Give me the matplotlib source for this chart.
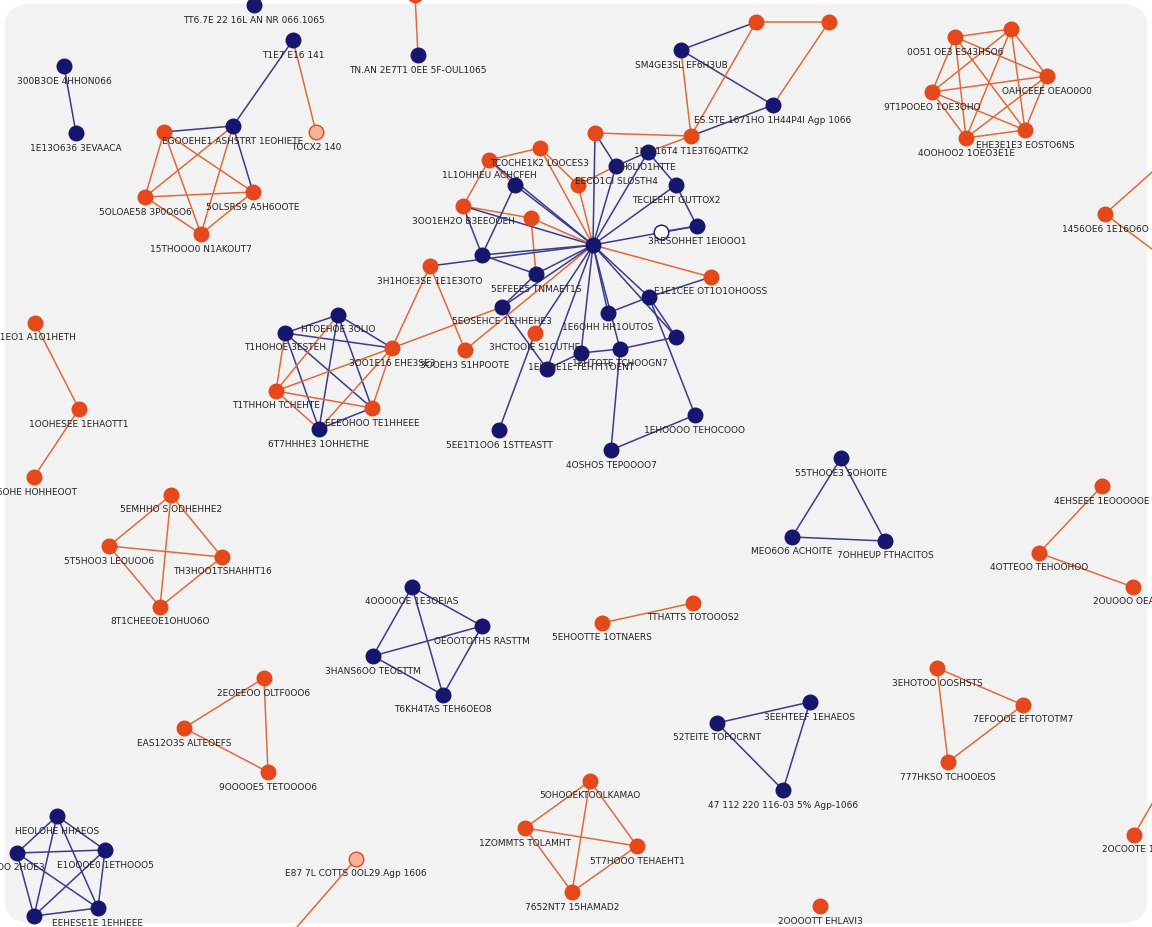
import matplotlib.pyplot as plt
from matplotlib.patches import FancyBboxPatch
from itertools import combinations

# node layout (pixel-like canvas units, y grows downward)
NODE_X = [64, 76, 254, 293, 316, 233, 164, 145, 253, 201,
          418, 415, 756, 829, 681, 773, 691, 955, 1011, 1047,
          932, 1025, 966, 1105, 1160, 1160, 593, 595, 540, 489,
          578, 463, 531, 430, 465, 535, 711, 616, 648, 676,
          697, 515, 482, 536, 502, 608, 649, 676, 620, 581,
          547, 661, 499, 611, 695, 285, 338, 392, 276, 372,
          319, 35, 79, 34, 171, 109, 222, 160, 841, 792,
          885, 1102, 1039, 1133, 412, 482, 373, 443, 602, 693,
          264, 184, 268, 937, 1023, 948, 810, 717, 783, 1134,
          1160, 57, 17, 105, 34, 98, 356, 290, 590, 525,
          637, 572, 820]
NODE_Y = [66, 133, 5, 40, 132, 126, 132, 197, 192, 234,
          55, -5, 22, 22, 50, 105, 136, 37, 29, 76,
          92, 130, 138, 214, 165, 255, 245, 133, 148, 160,
          185, 206, 218, 266, 350, 333, 277, 166, 152, 185,
          226, 185, 255, 274, 307, 313, 297, 337, 349, 353,
          369, 232, 430, 450, 415, 333, 315, 348, 391, 408,
          429, 323, 409, 477, 495, 546, 557, 607, 458, 537,
          541, 486, 553, 587, 587, 626, 656, 695, 623, 603,
          678, 728, 772, 668, 705, 762, 702, 723, 790, 835,
          790, 816, 853, 850, 916, 908, 859, 935, 781, 828,
          846, 892, 906]
# n = navy, o = orange, l = light orange, h = hollow navy
NODE_KIND = list("nnnnlnoooo" "nooonnoooo" "oooooonooo" "ooooooonnn"
                 "nnnnnnnnnn" "nhnnnnnooo" "nooooooonn" "nooonnnnoo"
                 "oooooonnno" "onnnnnlooo" "ooo")
NODE_LABEL = [
    "300B3OE 4HHON066", "1E13O636 3EVAACA", "TT6.7E 22 16L AN NR 066.1065", "T1E7 E16 141", "TOCX2 140",
    "EGOOEHE1 ASHSTRT 1EOHIETE", "", "5OLOAE58 3P0O6O6", "5OLSRS9 A5H6OOTE", "15THOOO0 N1AKOUT7",
    "TN.AN 2E7T1 0EE 5F-OUL1065", "", "", "", "SM4GE3SL EF6H3UB",
    "ES.STE 1671HO 1H44P4I Agp 1066", "1HBI16T4 T1E3T6QATTK2", "0O51 OE3 ES43HSO6", "", "OAHCEEE OEAO0O0",
    "9T1POOEO 1OE3OHO", "EHE3E1E3 EOSTO6NS", "4OOHOO2 1OEO3E1E", "1456OE6 1E16O6O", "",
    "", "", "", "TCOCHE1K2 LOOCES3", "1L1OHHEU ACHCFEH",
    "", "3OO1EH2O B3EEOOEH", "", "3H1HOE3SE 1E1E3OTO", "3OOEH3 S1HPOOTE",
    "3HCTOOIE S1CUTHE", "E1E1CEE OT1O1OHOOSS", "EECO1CI SLOSTH4", "H6LIO1HTTE", "TECIEEHT GUTTOX2",
    "3RESOHHET 1EIOOO1", "", "", "5EFEEE5 TNMAET1S", "5EOSEHCE 1EHHEHE3",
    "1E6OHH HH1OUTOS", "", "", "1EHTOTE TCHOOGN7", "1EIOOE1E TEHTTTOENT",
    "", "", "5EE1T1OO6 1STTEASTT", "4OSHOS TEPOOOO7", "1EHOOOO TEHOCOOO",
    "T1HOHOE 3ESTEH", "HTOEHOE 3OLIO", "3OO1E16 EHE3SE3", "T1THHOH TCHEHTE", "EEEOHOO TE1HHEEE",
    "6T7HHHE3 1OHHETHE", "S1EO1 A1O1HETH", "1OOHESEE 1EHAOTT1", "S6OHE HOHHEOOT", "5EMHHO S ODHEHHE2",
    "5T5HOO3 LEOUOO6", "TH3HOO1TSHAHHT16", "8T1CHEEOE1OHUO6O", "55THOOE3 SOHOITE", "MEO6O6 ACHOITE",
    "7OHHEUP FTHACITOS", "4EHSEEE 1EOOOOOE", "4OTTEOO TEHOOHOO", "2OUOOO OEAO06", "4OOOOOE 1E3OEIAS",
    "OEOOTOTHS RASTTM", "3HANS6OO TEOETTM", "T6KH4TAS TEH6OEO8", "5EHOOTTE 1OTNAERS", "TTHATTS TOTOOOS2",
    "2EOEEOO OLTF0OO6", "EAS12O3S ALTEOEFS", "9OOOOE5 TETOOOO6", "3EHOTOO OOSHSTS", "7EFOOOE EFTOTOTM7",
    "777HKSO TCHOOEOS", "3EEHTEEF 1EHAEOS", "52TEITE TOFOCRNT", "47 112 220 116-03 5% Agp-1066", "2OCOOTE 1E1",
    "", "HEOLOHE HHAEOS", "OOO 2HOE3", "E1OOOE0 1ETHOOO5", "",
    "EEHESE1E 1EHHEEE", "E87 7L COTTS 0OL29.Agp 1606", "", "5OHOOEKTOOLKAMAO", "1ZOMMTS TOLAMHT",
    "5T7HOOO TEHAEHT1", "7652NT7 15HAMAD2", "2OOOOTT EHLAVI3"]

CLIQUES = [list(range(5, 10)), list(range(17, 23)), list(range(55, 61)),
           list(range(64, 68)), [68, 69, 70], list(range(74, 78)), [80, 81, 82],
           [83, 84, 85], [86, 87, 88], list(range(91, 96)), list(range(98, 102))]
EDGES = [(0, 1), (3, 4), (3, 5), (10, 11), (12, 13), (12, 14), (14, 15), (14, 16),
         (15, 16), (12, 16), (13, 15), (16, 27), (16, 38), (23, 24), (23, 25),
         (35, 52), (48, 53), (53, 54), (46, 54), (28, 29), (29, 31), (31, 32),
         (28, 30), (27, 37), (37, 38), (38, 39), (39, 40), (41, 42), (42, 43),
         (43, 44), (44, 50), (45, 46), (46, 47), (47, 48), (48, 49), (49, 50),
         (33, 34), (36, 46), (32, 43), (31, 42), (29, 41), (51, 40), (30, 37),
         (57, 33), (57, 44), (61, 62), (62, 63), (71, 72), (72, 73), (78, 79),
         (89, 90), (96, 97)]
HUB_SPOKES = list(range(27, 51))

NAVY, ORANGE = '#16166e', '#e5481a'
EDGE_COL = {'n': '#3b3b8c', 'h': '#3b3b8c', 'o': '#e06a3a', 'l': '#e06a3a'}

edges = list(EDGES) + [(26, k) for k in HUB_SPOKES]
for c in CLIQUES:
    edges += list(combinations(c, 2))

fig = plt.figure(figsize=(11.52, 9.27), dpi=100, facecolor='white')
ax = fig.add_axes([0, 0, 1, 1])
ax.set_xlim(0, 1152)
ax.set_ylim(927, 0)
ax.axis('off')
bg = FancyBboxPatch((0.004, 0.004), 0.992, 0.992, boxstyle='round,pad=0,rounding_size=0.025',
                    transform=ax.transAxes, facecolor='#f2f2f2', edgecolor='none', zorder=0)
ax.add_patch(bg)

for i, (a, b) in enumerate(edges):
    col = EDGE_COL[NODE_KIND[a]] if i % 2 == 0 else EDGE_COL[NODE_KIND[b]]
    ax.plot([NODE_X[a], NODE_X[b]], [NODE_Y[a], NODE_Y[b]], color=col, lw=1.1, zorder=1)

for x, y, k, lab in zip(NODE_X, NODE_Y, NODE_KIND, NODE_LABEL):
    if k == 'n':
        fc, ec = NAVY, NAVY
    elif k == 'o':
        fc, ec = ORANGE, ORANGE
    elif k == 'l':
        fc, ec = '#f6b39a', ORANGE
    else:
        fc, ec = 'white', NAVY
    ax.scatter(x, y, s=110, c=fc, edgecolors=ec, linewidths=1.0, zorder=3)
    if lab:
        ax.text(x, y + 15, lab, ha='center', va='center', fontsize=6.5,
                color='#222222', zorder=4)

fig.savefig('out.png', dpi=100, facecolor='white')
